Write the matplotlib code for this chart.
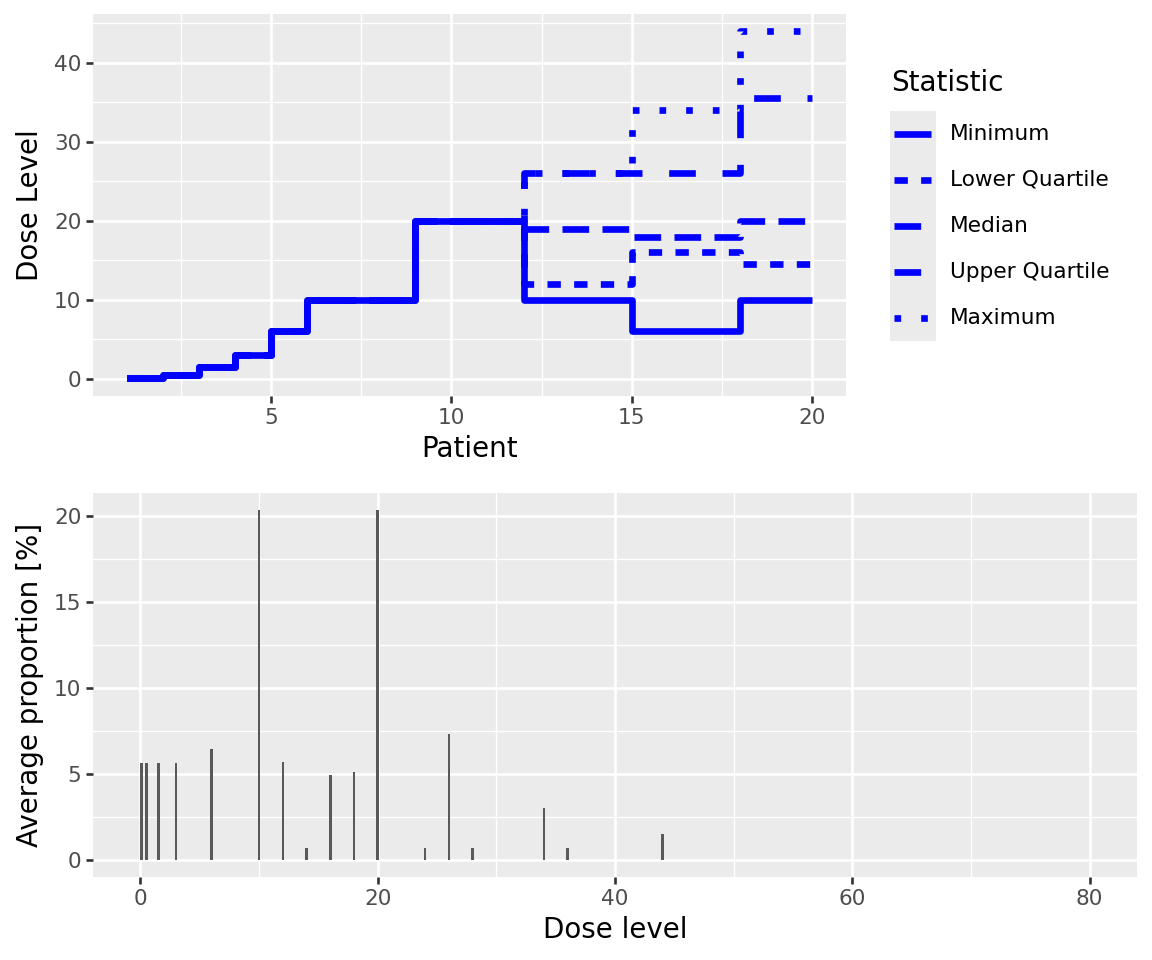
import numpy as np
import matplotlib.pyplot as plt
from matplotlib.ticker import MultipleLocator

# ---- data ----
patients = np.arange(1, 21)
stat_names = ['Minimum', 'Lower Quartile', 'Median', 'Upper Quartile', 'Maximum']
start = [0.1, 0.5, 1.5, 3, 6, 10, 10, 10, 20, 20, 20]
minimum = start + [10, 10, 10, 6, 6, 6, 10, 10, 10]
lower_q = start + [12, 12, 12, 16, 16, 16, 14.5, 14.5, 14.5]
median = start + [19, 19, 19, 18, 18, 18, 20, 20, 20]
upper_q = start + [26, 26, 26, 26, 26, 26, 35.5, 35.5, 35.5]
maximum = start + [26, 26, 26, 34, 34, 34, 44, 44, 44]
stat_values = [minimum, lower_q, median, upper_q, maximum]

dose_levels = [0.1, 0.5, 1.5, 3, 6, 10, 12, 14, 16, 18, 20, 24, 26, 28, 34, 36, 44]
avg_prop = [5.6, 5.6, 5.6, 5.6, 6.4, 20.3, 5.7, 0.7, 4.9, 5.1, 20.3, 0.7, 7.3, 0.7, 3.0, 0.7, 1.5]

# dash patterns in units of line width (ggplot-like)
dash_styles = [None, (2, 2), (4, 2), (4, 4), (1, 3)]

# ---- style ----
PANEL = '#EBEBEB'
GRID_MAJ = 1.9
GRID_MIN = 0.95
TICK_FS = 15.6
TITLE_FS = 20
LINE_W = 4.8
BLUE = '#0000FF'


def gg_axes(ax):
    ax.set_facecolor(PANEL)
    for s in ax.spines.values():
        s.set_visible(False)
    ax.grid(which='major', color='white', lw=GRID_MAJ)
    ax.grid(which='minor', color='white', lw=GRID_MIN)
    ax.set_axisbelow(True)
    ax.tick_params(which='major', length=4.95, width=1.9, color='#333333',
                   labelsize=TICK_FS, labelcolor='#4D4D4D', pad=3.5)
    ax.tick_params(which='minor', length=0)


def style_line(line, dashes):
    if dashes is None:
        line.set_linestyle('-')
    else:
        line.set_dashes(dashes)
    line.set_dash_capstyle('butt')
    line.set_solid_capstyle('butt')
    line.set_solid_joinstyle('round')
    line.set_dash_joinstyle('round')


fig = plt.figure(figsize=(11.52, 9.6), dpi=100)

# ---- top panel: dose level per patient ----
ax1 = fig.add_axes([93 / 1152, 1 - 396 / 960, (846 - 93) / 1152, (396 - 14) / 960])
gg_axes(ax1)
for vals, dashes in zip(stat_values, dash_styles):
    ln, = ax1.step(patients, vals, where='post', color=BLUE, lw=LINE_W)
    style_line(ln, dashes)
ax1.set_xlim(0.05, 20.95)
ax1.set_ylim(-2.195, 46.195)
ax1.xaxis.set_major_locator(MultipleLocator(5))
ax1.xaxis.set_minor_locator(MultipleLocator(2.5))
ax1.yaxis.set_major_locator(MultipleLocator(10))
ax1.yaxis.set_minor_locator(MultipleLocator(5))
ax1.set_xlabel('Patient', fontsize=TITLE_FS, labelpad=5.5)
ax1.set_ylabel('Dose Level', fontsize=TITLE_FS, labelpad=7)

# legend drawn as its own small axes, ggplot style
lax = fig.add_axes([890 / 1152, 1 - 341 / 960, 46 / 1152, 230 / 960])
lax.set_facecolor(PANEL)
for s in lax.spines.values():
    s.set_visible(False)
lax.set_xticks([])
lax.set_yticks([])
lax.set_xlim(0, 46)
lax.set_ylim(len(stat_names), 0)
for i, (name, dashes) in enumerate(zip(stat_names, dash_styles)):
    ln, = lax.plot([4, 41], [i + 0.5, i + 0.5], color=BLUE, lw=LINE_W)
    style_line(ln, dashes)
    lax.text(60, i + 0.5, name, fontsize=TICK_FS, va='center', ha='left',
             clip_on=False)
lax.text(1, -0.6, 'Statistic', fontsize=TITLE_FS, va='center', ha='left',
         clip_on=False)

# ---- bottom panel: average proportion per dose ----
ax2 = fig.add_axes([93 / 1152, 1 - 877 / 960, (1137 - 93) / 1152, (877 - 493) / 960])
gg_axes(ax2)
ax2.bar(dose_levels, avg_prop, width=0.22, color='#595959')
ax2.set_xlim(-4, 84)
ax2.set_ylim(-1.015, 21.315)
ax2.xaxis.set_major_locator(MultipleLocator(20))
ax2.xaxis.set_minor_locator(MultipleLocator(10))
ax2.yaxis.set_major_locator(MultipleLocator(5))
ax2.yaxis.set_minor_locator(MultipleLocator(2.5))
ax2.set_xlabel('Dose level', fontsize=TITLE_FS, labelpad=5.5)
ax2.set_ylabel('Average proportion [%]', fontsize=TITLE_FS, labelpad=7)

fig.savefig('out.png', dpi=100)
